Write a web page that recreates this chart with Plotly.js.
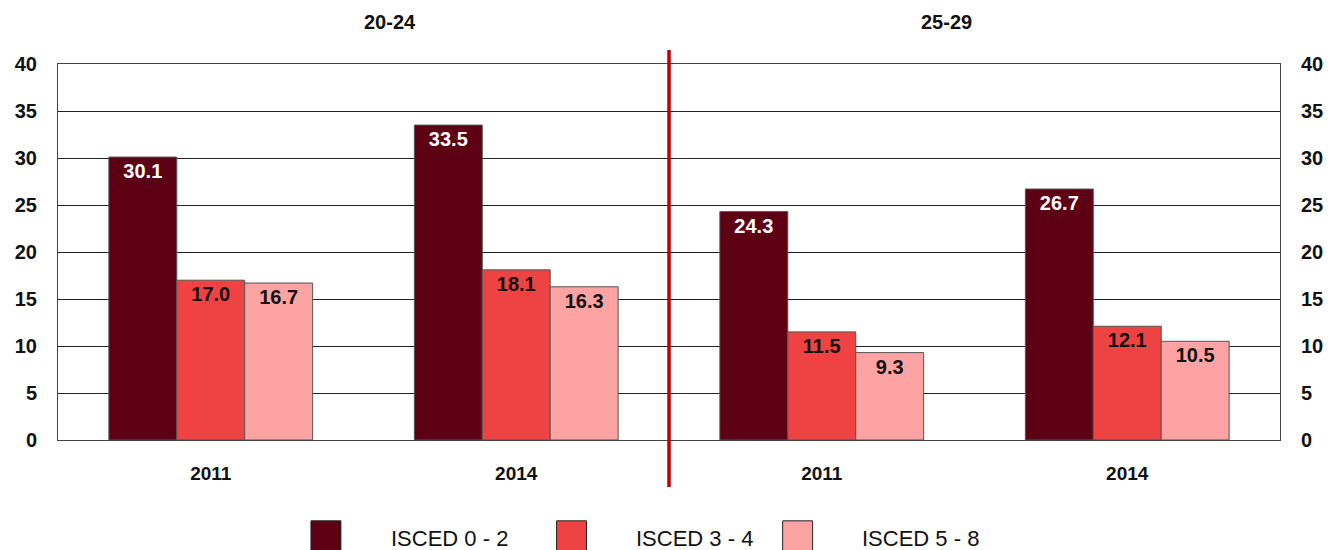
<!DOCTYPE html>
<html><head><meta charset="utf-8">
<script src="https://cdn.plot.ly/plotly-3.0.1.min.js"></script>
<style>body{margin:0;background:#fff}#c{width:1343px;height:550px}</style>
</head><body><div id="c"></div>
<script>
const groupLabels = ["20-24", "25-29"];
const years = ["2011", "2014", "2011", "2014"];
const seriesNames = ["ISCED 0 - 2", "ISCED 3 - 4", "ISCED 5 - 8"];
const isced02 = [30.1, 33.5, 24.3, 26.7];
const isced34 = [17.0, 18.1, 11.5, 12.1];
const isced58 = [16.7, 16.3, 9.3, 10.5];
const yTicks = [0, 5, 10, 15, 20, 25, 30, 35, 40];

const colors = ["#5e0013", "#ef4242", "#fea3a3"];
const textColors = ["#ffffff", "#111111", "#111111"];
const FONT = "'Liberation Sans Narrow', 'Arial Narrow', 'Liberation Sans', Arial, sans-serif";
const xs = years.map((_, i) => i);
const values = [isced02, isced34, isced58];

const traces = values.map((v, k) => ({
  type: "bar", x: xs, y: v, name: seriesNames[k],
  marker: {color: colors[k], line: {color: "#555", width: 1}},
  text: v.map(d => d.toFixed(1)), textposition: "inside", insidetextanchor: "end",
  textangle: 0, constraintext: "none",
  textfont: {family: FONT, size: 20, color: textColors[k], weight: "bold"},
  cliponaxis: false, showlegend: false, hoverinfo: "skip"
}));
// invisible trace for right axis
traces.push({type: "scatter", x: [0], y: [0], yaxis: "y2", mode: "markers",
  marker: {opacity: 0}, showlegend: false, hoverinfo: "skip"});

const shapes = [{type: "line", xref: "paper", yref: "paper", x0: 0.5, x1: 0.5, y0: -0.125, y1: 1.037,
  line: {color: "#c00000", width: 3.5}}];
const annotations = groupLabels.map((g, i) => ({
  text: "<b>" + g + "</b>", xref: "paper", yref: "paper", x: [0.2717, 0.7267][i], y: 1.112,
  showarrow: false, font: {family: FONT, size: 20, color: "#111"}, xanchor: "center", yanchor: "middle"
}));
// custom legend
const legX = [0.207, 0.408, 0.593];
seriesNames.forEach((n, k) => {
  shapes.push({type: "rect", xref: "paper", yref: "paper",
    x0: legX[k], x1: legX[k] + 0.0245, y0: -0.215, y1: -0.31,
    fillcolor: colors[k], line: {color: "#222", width: 1}});
  annotations.push({text: n, xref: "paper", yref: "paper", x: legX[k] + 0.0635, y: -0.262,
    xanchor: "left", yanchor: "middle", showarrow: false,
    font: {family: FONT, size: 22, color: "#111"}});
});

const yax = {range: [0, 40], tickvals: yTicks, ticks: "", showgrid: true, gridcolor: "#222", gridwidth: 1,
  zeroline: false, showline: true, linecolor: "#444", linewidth: 1, fixedrange: true,
  tickfont: {family: FONT, size: 20, color: "#111", weight: "bold"}, ticklabelstandoff: 16};

const layout = {
  width: 1343, height: 550, margin: {l: 58, r: 63, t: 64, b: 110},
  paper_bgcolor: "#fff", plot_bgcolor: "#fff",
  barmode: "group", bargap: 0.333, bargroupgap: 0,
  xaxis: {range: [-0.5, 3.5], tickvals: xs, ticktext: years.map(y => "<b>" + y + "</b>"), ticks: "",
    showline: true, mirror: true, linecolor: "#444", linewidth: 1, showgrid: false, zeroline: false,
    tickfont: {family: FONT, size: 19, color: "#111"}, ticklabelstandoff: 16},
  yaxis: Object.assign({}, yax),
  yaxis2: Object.assign({}, yax, {overlaying: "y", side: "right", showgrid: false}),
  shapes: shapes, annotations: annotations, showlegend: false
};
Plotly.newPlot("c", traces, layout, {staticPlot: true});
</script></body></html>
